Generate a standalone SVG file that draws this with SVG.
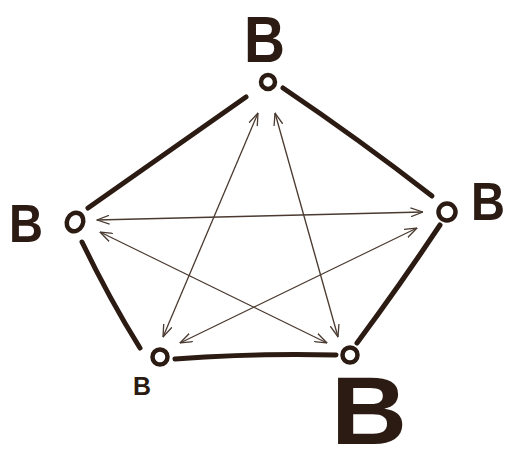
<svg xmlns="http://www.w3.org/2000/svg" width="508" height="450" viewBox="0 0 508 450">
<style>
.edge{fill:none;stroke:#2b1b12;stroke-width:5;stroke-linecap:round}
.arr{fill:none;stroke:#4a3a30;stroke-width:1.3;marker-start:url(#ah);marker-end:url(#ah)}
.node{fill:#fff;stroke:#2b1b12;stroke-width:4.5}
.lbl{font-family:"Liberation Sans",Arial,sans-serif;font-weight:bold;fill:#2b1b12}
</style>
<defs>
<marker id="ah" viewBox="0 0 13 10" refX="12.5" refY="5" markerWidth="13" markerHeight="10" markerUnits="userSpaceOnUse" orient="auto-start-reverse">
<path d="M0,0.5 L12.5,5 L0,9.5" fill="none" stroke="#4a3a30" stroke-width="1.3"/>
</marker>
</defs>
<rect width="508" height="450" fill="#fff"/>
<g id="connectors">
<path class="edge" d="M246,97 Q170,150 88,208"/>
<path class="edge" d="M283,88 Q360,140 432,196"/>
<path class="edge" d="M82,242 Q110,300 140,348"/>
<path class="edge" d="M175,359 Q255,353 336,355"/>
<path class="edge" d="M440,225 Q400,285 357,343"/>
<line class="arr" x1="97" y1="220" x2="423" y2="212"/>
<line class="arr" x1="100" y1="232" x2="327" y2="343"/>
<line class="arr" x1="258" y1="113" x2="163" y2="337"/>
<line class="arr" x1="275" y1="113" x2="338" y2="337"/>
<line class="arr" x1="417" y1="228" x2="180" y2="343"/>
</g>
<g id="node-top">
<circle class="node" cx="268" cy="82" r="7"/>
<text class="lbl" x="244" y="62" font-size="64" textLength="41" lengthAdjust="spacingAndGlyphs">B</text>
</g>
<g id="node-left">
<ellipse class="node" cx="75" cy="222" rx="8" ry="9.5" transform="rotate(25 75 222)"/>
<text class="lbl" x="9" y="242" font-size="54" textLength="34" lengthAdjust="spacingAndGlyphs">B</text>
</g>
<g id="node-right">
<circle class="node" cx="447" cy="212" r="8.5"/>
<text class="lbl" x="471" y="220" font-size="53" textLength="34" lengthAdjust="spacingAndGlyphs">B</text>
</g>
<g id="node-bottom-left">
<circle class="node" cx="160" cy="357" r="7.5"/>
<text class="lbl" x="133" y="395" font-size="25" textLength="18" lengthAdjust="spacingAndGlyphs">B</text>
</g>
<g id="node-bottom-right">
<circle class="node" cx="350" cy="355" r="7.5"/>
<text class="lbl" x="331" y="444" font-size="96" textLength="76" lengthAdjust="spacingAndGlyphs">B</text>
</g>
</svg>
